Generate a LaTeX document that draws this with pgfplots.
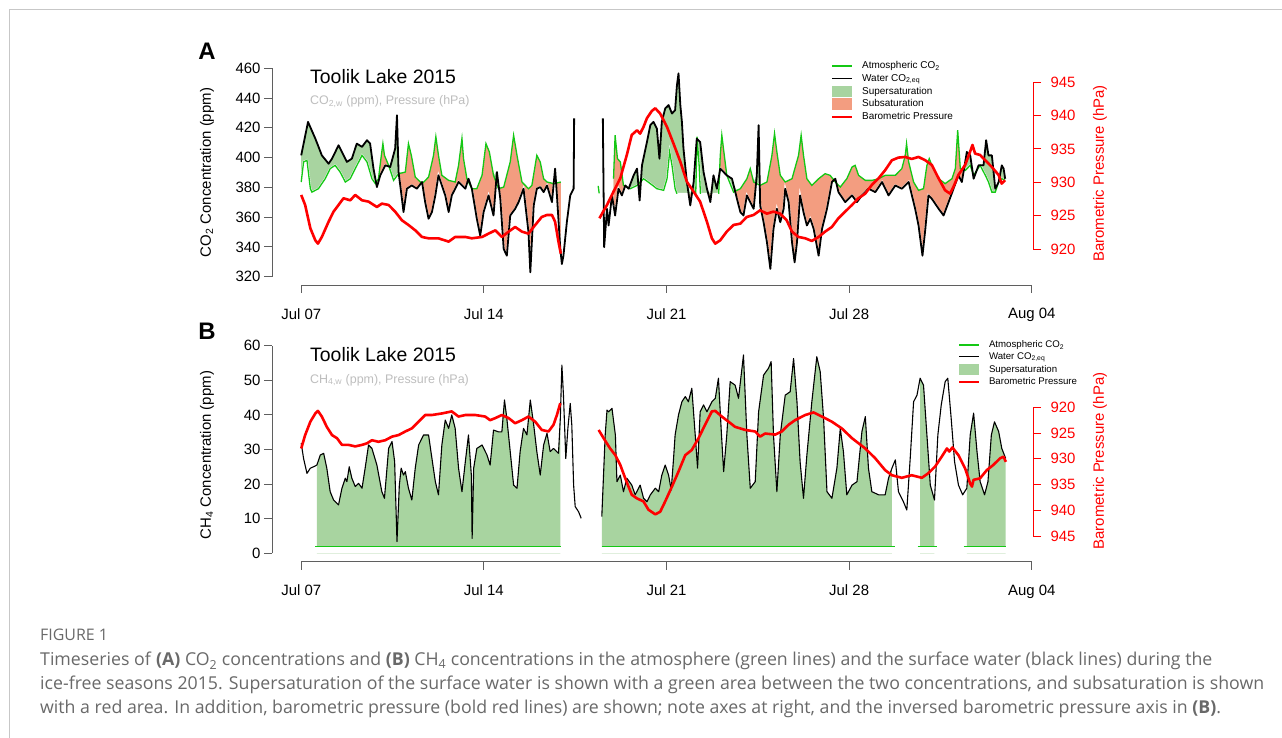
\documentclass[border=0pt]{standalone}
\usepackage{pgfplots}
\pgfplotsset{compat=1.18}
\usepackage{pgfplotstable}
\usepackage{fontspec}
\setmainfont{Liberation Sans}
\newfontfamily\capfont{Open Sans}

\definecolor{atmgreen}{RGB}{20,200,20}
\definecolor{supgreen}{RGB}{168,212,160}
\definecolor{subred}{RGB}{243,157,128}
\definecolor{axgray}{RGB}{95,95,95}
\definecolor{subgray}{RGB}{190,190,190}
\definecolor{capgray}{RGB}{105,105,105}

\pgfplotsset{
  leg atm/.style={legend image code/.code={\draw[atmgreen, line width=1.2bp] (0bp,0bp) -- (20bp,0bp); \path[draw=none, fill=none] (0bp,0bp) -- (30bp,0bp);}},
  leg water/.style={legend image code/.code={\draw[black, line width=1.1bp] (0bp,0bp) -- (20bp,0bp); \path[draw=none, fill=none] (0bp,0bp) -- (30bp,0bp);}},
  leg baro/.style={legend image code/.code={\draw[red, line width=1.5bp] (0bp,0bp) -- (20bp,0bp); \path[draw=none, fill=none] (0bp,0bp) -- (30bp,0bp);}},
  leg sup/.style={legend image code/.code={\fill[supgreen, draw=none] (0bp,-5.6bp) rectangle (20bp,5.6bp); \path[draw=none, fill=none] (0bp,0bp) -- (30bp,0bp);}},
  common/.style={
    scale only axis, anchor=south west,
    xmin=-1.12,
    tick align=outside, major tick length=8bp,
    ticklabel style={font=\fontsize{15}{18}\selectfont},
    xticklabel style={yshift=-12bp},
    /pgf/number format/assume math mode=true,
    label style={font=\fontsize{15}{18}\selectfont},
  },
}

% ---------------- Panel A data (days since Jul 07; a = atmospheric, w = water) ----------------
\pgfplotstableread{
d a w
0.00 383.6 401.5
0.09 397.1 409.3
0.22 398.2 420.5
0.26 392.3 424.0
0.35 379.1 420.4
0.41 376.8 418.0
0.54 378.0 412.8
0.66 379.1 407.4
0.79 382.5 401.5
0.92 385.8 398.7
1.05 390.4 395.9
1.11 392.6 397.5
1.18 393.4 399.3
1.30 394.8 403.6
1.43 391.7 408.3
1.49 390.3 406.2
1.56 388.0 403.8
1.69 383.6 399.2
1.75 384.3 397.1
1.88 385.8 398.6
1.94 388.0 399.3
2.07 392.6 406.2
2.13 394.6 409.4
2.33 401.5 407.2
2.52 397.1 411.7
2.64 390.0 409.4
2.71 385.8 400.3
2.77 384.3 392.6
2.84 382.5 385.9
2.90 384.2 380.2
2.96 385.8 383.8
3.03 395.8 388.1
3.07 401.5 389.5
3.13 409.4 391.6
3.19 401.5 393.7
3.22 400.2 394.8
3.35 394.8 394.1
3.41 391.6 393.7
3.54 384.7 402.1
3.60 386.1 406.1
3.67 387.8 428.5
3.73 389.2 390.3
3.86 389.7 372.3
3.92 390.0 363.4
3.99 390.3 371.9
4.05 399.9 379.1
4.11 409.4 379.8
4.22 401.5 381.1
4.24 399.6 381.3
4.37 386.9 379.8
4.43 385.9 379.1
4.63 382.5 383.6
4.75 384.6 370.1
4.88 386.9 358.9
5.01 396.8 363.4
5.07 401.5 368.6
5.14 411.2 374.6
5.16 414.0 376.9
5.26 401.5 388.1
5.39 388.1 381.3
5.52 386.4 374.6
5.65 384.7 363.4
5.77 384.2 374.6
5.90 383.6 379.1
6.03 394.8 383.6
6.16 412.8 381.4
6.22 399.3 380.3
6.29 392.0 379.1
6.35 385.8 382.5
6.41 383.7 385.8
6.54 379.1 379.1
6.73 379.1 358.9
6.86 385.0 347.6
6.93 388.1 356.1
6.99 396.6 363.4
7.08 409.4 368.7
7.18 405.1 374.6
7.21 403.8 372.5
7.37 388.1 361.1
7.50 382.0 390.3
7.56 379.1 382.0
7.63 379.5 372.3
7.76 380.2 338.6
7.88 388.3 334.1
8.01 397.1 361.1
8.14 415.0 364.2
8.20 408.8 365.6
8.27 401.5 368.0
8.33 395.8 370.1
8.46 383.6 376.2
8.52 382.5 379.1
8.71 379.1 349.9
8.78 380.3 322.9
8.84 381.3 343.6
8.91 388.8 367.8
9.03 401.5 379.1
9.16 397.1 380.2
9.29 385.8 376.8
9.42 383.6 381.3
9.61 382.8 370.1
9.67 382.5 381.4
9.73 382.7 392.6
9.80 383.0 374.6
9.93 383.5 338.6
9.95 383.6 335.2
}\Aone

\pgfplotstableread{
d w
9.95 335.2
9.99 328.5
10.05 334.1
10.18 356.6
10.31 374.6
10.44 379.1
10.46 426.3
}\Awtail

\pgfplotstableread{
d w
11.56 426.3
11.61 339.8
11.72 365.6
11.78 354.4
11.91 374.6
11.97 367.9
}\Awhead

\pgfplotstableread{
d a w
11.97 385.8 367.9
12.03 415.0 361.1
12.12 399.3 373.6
12.16 398.5 379.1
12.23 397.1 376.7
12.29 389.2 374.6
12.35 381.3 377.7
12.42 380.7 381.3
12.55 379.6 379.1
12.61 379.1 382.0
12.74 380.2 388.1
12.87 381.3 392.6
12.97 383.1 371.2
13.06 384.7 394.8
13.12 385.8 399.8
13.25 384.2 410.5
13.38 382.5 421.8
13.50 380.9 424.0
13.63 379.1 419.5
13.73 378.7 399.3
13.82 378.3 424.0
13.89 378.0 428.9
13.95 381.6 433.0
14.02 385.8 434.2
14.08 396.6 435.3
14.12 403.8 433.5
14.21 394.8 429.6
14.33 379.1 431.9
14.40 375.7 448.7
14.46 375.7 456.6
14.53 375.7 435.3
14.59 375.7 424.0
14.65 375.7 406.1
14.78 375.7 383.6
14.91 375.7 367.9
15.04 375.7 383.6
15.12 375.7 403.1
15.16 406.3 412.8
15.17 414.0 412.6
15.25 395.0 411.2
15.29 379.6 410.5
15.30 375.7 408.9
15.42 375.7 390.3
15.55 375.7 379.1
15.68 375.7 370.1
15.80 375.7 388.1
15.93 375.7 379.1
16.00 375.7 386.4
16.06 401.5 392.6
16.12 415.0 391.5
16.31 388.1 388.1
16.51 379.4 385.8
16.57 376.8 381.5
16.70 378.0 372.3
16.83 379.1 363.4
16.95 382.3 361.1
17.08 385.8 374.6
17.21 392.6 370.1
17.34 383.6 365.6
17.46 382.5 388.1
17.53 381.9 421.8
17.59 381.3 367.9
17.72 382.5 356.6
17.85 383.6 343.1
17.98 395.8 325.2
18.04 401.5 338.7
18.10 410.3 352.1
18.14 416.2 356.3
18.23 403.8 365.6
18.36 388.1 356.6
18.49 385.0 365.6
18.55 383.6 379.1
18.68 384.7 370.1
18.81 385.8 343.1
18.91 392.1 329.6
19.00 397.7 343.1
19.06 401.5 358.9
19.12 409.6 374.6
19.16 415.0 371.1
19.25 401.5 363.4
19.38 385.8 354.4
19.51 382.7 358.9
19.57 381.3 355.8
19.64 382.5 352.1
19.83 385.8 334.1
19.96 387.6 352.1
20.08 389.2 360.6
20.15 388.8 365.6
20.27 388.1 376.9
20.34 386.5 383.6
20.47 383.6 385.8
20.59 381.5 376.8
20.66 380.2 375.0
20.85 384.5 370.1
20.91 385.8 371.1
21.11 393.7 374.6
21.23 394.8 371.8
21.30 391.2 370.1
21.36 388.1 371.5
21.49 386.4 374.6
21.62 384.7 376.9
21.74 384.7 379.1
21.87 384.7 378.0
22.00 385.2 376.8
22.13 385.8 380.2
22.26 387.0 383.6
22.38 388.1 379.3
22.51 388.1 374.6
22.77 388.1 381.3
23.02 392.6 379.1
23.15 401.5 381.4
23.20 409.4 382.2
23.28 397.1 383.6
23.47 383.6 369.9
23.53 381.8 365.6
23.66 378.0 354.4
23.81 378.9 334.1
23.85 379.1 340.6
23.92 387.6 352.1
23.98 394.8 363.4
24.04 397.8 374.6
24.07 399.3 374.1
24.17 394.8 372.3
24.43 385.8 365.6
24.62 383.3 361.1
24.68 382.5 364.0
24.81 384.2 370.1
24.94 385.8 376.2
25.00 388.9 379.1
25.07 392.6 382.4
25.16 418.4 386.7
25.19 410.7 388.1
25.26 392.6 385.7
25.32 392.2 383.6
25.45 391.4 397.3
25.51 392.5 403.8
25.64 394.8 401.5
25.77 388.1 385.8
25.96 393.2 394.8
26.02 394.8 394.8
26.15 390.4 394.8
26.22 388.1 406.6
26.25 387.0 411.7
26.34 383.6 401.5
26.47 376.8 401.5
26.60 376.8 379.1
26.73 383.6 383.6
26.85 385.8 394.8
26.92 385.2 392.6
26.98 384.7 385.8
}\Atwo

\pgfplotstableread{
d v
0.00 928.1
0.15 926.6
0.35 923.1
0.54 921.3
0.64 920.8
0.79 921.8
1.05 924.1
1.24 925.6
1.43 926.6
1.62 927.6
1.88 927.3
2.07 928.1
2.33 927.3
2.58 927.1
2.90 926.3
3.09 926.8
3.35 926.6
3.60 925.6
3.86 924.3
4.11 923.6
4.37 922.8
4.63 921.8
4.88 921.6
5.26 921.6
5.65 921.1
5.90 921.8
6.29 921.8
6.54 921.6
6.93 921.8
7.18 922.3
7.44 922.8
7.69 921.8
7.95 922.6
8.20 923.3
8.46 922.6
8.71 922.3
8.97 923.6
9.22 924.8
9.42 925.1
9.61 925.1
9.73 924.1
9.86 921.1
9.95 919.3
}\Apone

\pgfplotstableread{
d v
11.43 924.6
11.72 926.6
11.97 928.6
12.23 930.6
12.48 934.1
12.67 937.1
12.87 937.8
12.99 937.3
13.12 938.3
13.25 939.6
13.44 940.7
13.57 941.1
13.76 940.3
14.02 938.3
14.27 935.8
14.53 933.1
14.78 930.1
15.04 928.6
15.29 927.1
15.55 924.1
15.74 921.6
15.87 920.8
16.06 921.3
16.31 922.6
16.57 923.6
16.83 923.8
17.08 924.8
17.34 925.1
17.59 925.8
17.85 925.3
18.10 925.6
18.36 925.3
18.61 924.3
18.81 922.6
19.06 921.8
19.32 921.6
19.57 921.2
19.83 921.8
20.08 922.6
20.34 923.3
20.59 924.6
20.85 925.6
21.11 926.6
21.36 927.6
21.62 928.3
21.87 929.6
22.13 930.6
22.38 931.8
22.64 933.3
22.89 933.7
23.15 933.8
23.40 933.5
23.66 933.8
23.92 933.3
24.17 932.6
24.43 930.6
24.68 928.8
24.87 928.3
25.00 929.3
25.19 931.1
25.45 932.6
25.64 934.6
25.73 935.6
25.83 934.3
26.02 934.1
26.22 933.3
26.47 932.3
26.73 931.1
26.85 929.8
26.98 930.3
}\Aptwo

% ---------------- Panel B data ----------------
\pgfplotstableread{
d v
0.00 31.8
0.09 27.4
0.22 23.1
0.35 24.6
0.47 25.0
0.60 25.5
0.73 28.4
0.86 28.9
0.98 24.6
1.11 17.8
1.24 15.4
1.43 14.0
1.56 18.8
1.69 21.7
1.75 20.7
1.84 25.0
1.94 21.7
2.07 19.3
2.20 20.2
2.33 18.8
2.45 24.6
2.58 31.3
2.71 30.3
2.90 25.5
3.09 17.8
3.19 15.9
3.35 30.3
3.48 32.3
3.58 26.5
3.67 3.4
3.76 19.7
3.83 24.6
3.92 22.6
3.99 23.6
4.11 18.8
4.24 15.4
4.37 24.6
4.50 31.3
4.69 34.2
4.88 34.2
5.01 27.4
5.14 20.7
5.26 16.9
5.39 31.3
5.52 38.5
5.65 36.1
5.77 40.0
5.90 36.1
6.03 24.6
6.16 17.8
6.29 26.5
6.41 34.2
6.52 22.6
6.55 4.3
6.61 24.6
6.73 30.3
6.93 31.3
7.12 28.4
7.24 25.5
7.37 35.6
7.56 35.1
7.69 35.1
7.79 44.3
7.88 39.0
8.01 29.4
8.14 19.7
8.27 18.8
8.39 29.4
8.52 36.1
8.65 34.2
8.78 44.3
8.91 37.1
9.03 29.4
9.16 22.6
9.29 31.3
9.42 34.7
9.54 29.4
9.67 30.3
9.86 28.9
9.93 39.0
9.99 54.4
10.05 45.7
10.14 27.4
10.22 36.1
10.31 43.3
10.37 37.1
10.44 19.7
10.50 13.5
10.63 12.0
10.73 10.1
}\Bwone

\pgfplotstableread{
d v
11.52 10.6
11.65 34.2
11.72 41.4
11.78 40.9
11.91 41.9
12.04 34.2
12.10 20.7
12.23 22.6
12.35 17.8
12.48 21.7
12.67 19.7
12.80 16.9
12.99 19.7
13.12 15.9
13.25 14.9
13.38 16.9
13.57 18.8
13.70 17.8
13.82 22.6
13.95 25.5
14.08 22.6
14.18 18.3
14.27 27.4
14.33 34.2
14.46 40.0
14.59 43.8
14.72 45.3
14.84 43.8
14.97 47.7
15.10 34.2
15.19 24.6
15.29 40.9
15.42 42.9
15.55 40.9
15.74 43.8
15.87 44.8
15.99 50.6
16.10 35.2
16.19 23.6
16.31 34.2
16.44 49.6
16.63 48.6
16.76 44.8
16.95 57.3
17.08 34.2
17.21 18.8
17.40 20.7
17.53 40.9
17.72 51.5
17.91 53.5
18.01 55.4
18.10 34.2
18.23 17.8
18.36 34.2
18.55 45.7
18.74 46.7
18.87 56.3
19.00 43.8
19.12 26.5
19.25 15.9
19.38 28.4
19.57 43.8
19.76 56.8
19.89 52.5
20.02 39.0
20.15 17.8
20.34 15.9
20.53 24.6
20.66 36.1
20.78 29.4
20.91 16.9
21.11 19.7
21.30 20.7
21.49 35.2
21.62 39.5
21.74 24.6
21.87 17.8
22.13 16.9
22.38 16.9
22.51 21.7
22.64 24.6
22.77 27.0
22.89 17.8
23.08 14.9
23.21 12.5
23.34 27.4
23.47 43.8
23.60 45.7
23.72 50.6
23.85 48.6
23.98 34.2
24.11 19.7
24.27 15.4
24.40 34.2
24.53 42.9
24.68 49.6
24.78 50.6
24.91 39.0
25.04 26.5
25.19 19.7
25.35 16.9
25.51 18.8
25.64 34.2
25.77 40.5
25.90 29.4
26.02 20.7
26.19 16.9
26.32 20.7
26.45 34.2
26.57 38.0
26.73 35.2
26.85 30.3
27.00 27.4
}\Bwtwo

\pgfplotstableread{
d v
0.54 1.9
9.95 1.9
11.52 1.9
22.74 1.9
23.62 1.9
24.36 1.9
25.39 1.9
27.00 1.9
}\Batm

\pgfplotstableread{
d v
0.00 928.0
0.15 925.4
0.35 922.8
0.54 921.2
0.64 920.7
0.79 921.8
0.98 923.8
1.18 925.4
1.37 926.0
1.56 927.3
1.81 927.3
2.07 927.6
2.33 927.3
2.52 927.0
2.71 926.4
2.96 926.7
3.22 926.4
3.48 925.7
3.73 925.4
3.99 924.7
4.24 924.1
4.50 922.8
4.75 921.5
5.01 921.5
5.39 921.2
5.77 920.8
6.03 921.8
6.29 921.5
6.67 921.5
7.05 921.8
7.24 922.5
7.44 922.1
7.69 921.5
7.95 922.1
8.20 923.1
8.46 922.5
8.71 921.8
8.97 922.8
9.22 924.4
9.48 924.7
9.67 923.4
9.80 921.5
9.93 919.2
}\Bpone

\pgfplotstableread{
d v
11.40 924.4
11.59 926.0
11.84 928.0
12.04 929.3
12.23 931.2
12.42 933.8
12.67 937.0
12.87 937.7
13.12 938.3
13.31 939.9
13.57 940.8
13.76 940.3
13.95 938.3
14.21 935.4
14.46 932.5
14.72 929.3
14.97 928.3
15.23 926.0
15.48 923.4
15.74 920.8
15.87 920.7
16.12 921.8
16.38 922.8
16.63 923.8
17.02 924.4
17.40 924.7
17.59 925.7
17.78 925.1
18.17 925.3
18.42 924.7
18.68 923.4
18.93 922.5
19.32 921.5
19.64 921.0
19.96 921.8
20.34 922.8
20.72 924.1
21.11 926.0
21.62 928.0
22.00 929.9
22.38 932.2
22.64 933.2
23.02 933.7
23.40 933.2
23.79 933.7
24.04 932.8
24.30 931.5
24.55 929.6
24.75 928.0
24.84 928.6
24.96 927.8
25.19 929.3
25.45 931.9
25.64 934.8
25.71 935.4
25.77 934.1
26.02 933.8
26.28 932.2
26.53 931.2
26.79 929.9
26.92 929.6
27.01 930.6
}\Bptwo

\begin{document}
\begin{tikzpicture}[x=1bp,y=1bp]
\useasboundingbox (0,0) rectangle (1282,738);
\fill[white] (0,0) rectangle (1282,738);
\draw[black!22, line width=1.5bp] (9.5,0) -- (9.5,728.5) -- (1282,728.5);

%================ PANEL A : CO2 =================
\begin{axis}[common,
  at={(272bp,453bp)}, width=789bp, height=225bp,
  xmax=29.12, ymin=314.4, ymax=465.6,
  axis x line*=bottom, axis y line*=left,
  axis line style={axgray, -, line width=0.9bp},
  x axis line style={shorten <=29.2bp, shorten >=29.2bp},
  y axis line style={shorten <=8.3bp, shorten >=8.3bp},
  tick style={axgray, line width=0.9bp},
  xtick={0,7,14,21,28},
  xticklabels={Jul 07,Jul 14,Jul 21,Jul 28,Aug 04},
  ytick={320,340,...,460},
  ylabel={CO\textsubscript{2} Concentration (ppm)},
  ylabel style={at={(axis description cs:-0.0824,0.5)}, anchor=center},
]
% super-/subsaturation areas: green up to max(w,a), red up to a, white below min(w,a)
\addplot[fill=supgreen, draw=none, forget plot] table[x=d, y expr={max(\thisrow{w},\thisrow{a})}] {\Aone} \closedcycle;
\addplot[fill=subred, draw=none, forget plot] table[x=d, y=a] {\Aone} \closedcycle;
\addplot[fill=white, draw=white, line width=2bp, forget plot] table[x=d, y expr={min(\thisrow{w},\thisrow{a})}] {\Aone} \closedcycle;
\addplot[fill=supgreen, draw=none, forget plot] table[x=d, y expr={max(\thisrow{w},\thisrow{a})}] {\Atwo} \closedcycle;
\addplot[fill=subred, draw=none, forget plot] table[x=d, y=a] {\Atwo} \closedcycle;
\addplot[fill=white, draw=white, line width=2bp, forget plot] table[x=d, y expr={min(\thisrow{w},\thisrow{a})}] {\Atwo} \closedcycle;
% atmospheric CO2
\addplot[atmgreen, line width=1.3bp, forget plot] table[x=d, y=a] {\Aone};
\addplot[atmgreen, line width=1.3bp, forget plot, restrict x to domain=11.9:14.41] table[x=d, y=a] {\Atwo};
\addplot[atmgreen, line width=1.3bp, forget plot, restrict x to domain=15.11:15.31] table[x=d, y=a] {\Atwo};
\addplot[atmgreen, line width=1.3bp, forget plot, restrict x to domain=15.99:27] table[x=d, y=a] {\Atwo};
\addplot[atmgreen, line width=1.3bp, forget plot] coordinates {(11.38,381) (11.42,376)};
% water CO2
\addplot[black, line width=1.8bp, line join=round, forget plot] table[x=d, y=w] {\Aone};
\addplot[black, line width=1.8bp, line join=round, forget plot] table[x=d, y=w] {\Awtail};
\addplot[black, line width=1.8bp, line join=round, forget plot] table[x=d, y=w] {\Awhead};
\addplot[black, line width=1.8bp, line join=round, forget plot] table[x=d, y=w] {\Atwo};
\end{axis}

\begin{axis}[common, clip=false,
  at={(272bp,453bp)}, width=761bp, height=225bp,
  xmax=28.05, ymin=914.6, ymax=948.34,
  axis x line=none, axis y line*=right,
  y axis line style={draw=none},
  tick style={red, line width=0.9bp},
  ytick={920,925,...,945},
  yticklabel style={red, xshift=6bp},
  ylabel={Barometric Pressure (hPa)},
  ylabel style={red, at={(axis description cs:1.088,0.4956)}, anchor=center},
]
\draw[red, line width=0.9bp] (axis cs:28.05,920) -- (axis cs:28.05,945);
\addplot[red, line width=2.6bp, line join=round, forget plot] table {\Apone};
\addplot[red, line width=2.6bp, line join=round, forget plot] table {\Aptwo};
\end{axis}

% legend of panel A (key swatches and labels)
\begin{scope}[every node/.style={anchor=west, inner sep=0, font=\fontsize{10}{10}\selectfont, text height=7.6bp, text depth=2.2bp}]
\draw[atmgreen, line width=1.2bp] (832,672) -- (852,672);
\node at (862,672) {Atmospheric CO\textsubscript{2}};
\draw[black, line width=1.1bp] (832,659.3) -- (852,659.3);
\node at (862,659.3) {Water CO\textsubscript{2,eq}};
\fill[supgreen] (832,641) rectangle (852,652.2);
\node at (862,646.6) {Supersaturation};
\fill[subred] (832,628.3) rectangle (852,639.5);
\node at (862,633.9) {Subsaturation};
\draw[red, line width=1.5bp] (832,621.2) -- (852,621.2);
\node at (862,621.2) {Barometric Pressure};
\end{scope}

%================ PANEL B : CH4 =================
\begin{axis}[common,
  at={(272bp,176.4bp)}, width=789bp, height=224.2bp,
  xmax=29.12, ymin=-2.4, ymax=62.4,
  axis x line*=bottom, axis y line*=left,
  axis line style={axgray, -, line width=0.9bp},
  x axis line style={shorten <=29.2bp, shorten >=29.2bp},
  y axis line style={shorten <=8.3bp, shorten >=8.3bp},
  tick style={axgray, line width=0.9bp},
  xtick={0,7,14,21,28},
  xticklabels={Jul 07,Jul 14,Jul 21,Jul 28,Aug 04},
  ytick={0,10,...,60},
  ylabel={CH\textsubscript{4} Concentration (ppm)},
  ylabel style={at={(axis description cs:-0.0824,0.475)}, anchor=center},
  legend cell align=left,
  legend style={at={(0.8695,0.988)}, anchor=north west, draw=none, fill=none,
    inner sep=0pt, font=\fontsize{9.7}{10}\selectfont, row sep=2.2bp,
    nodes={inner sep=0pt, text height=7.4bp, text depth=2.2bp}},
]
\addplot[fill=supgreen, draw=none, forget plot, restrict x to domain=0.54:9.95] table {\Bwone} \closedcycle;
\addplot[fill=supgreen, draw=none, forget plot, restrict x to domain=11.52:22.74] table {\Bwtwo} \closedcycle;
\addplot[fill=supgreen, draw=none, forget plot, restrict x to domain=23.62:24.36] table {\Bwtwo} \closedcycle;
\addplot[fill=supgreen, draw=none, forget plot, restrict x to domain=25.39:27.0] table {\Bwtwo} \closedcycle;
\addplot[fill=white, draw=none, forget plot] coordinates {(-1,1.9) (29,1.9)} \closedcycle;
\addplot[atmgreen, line width=1.2bp, forget plot, restrict x to domain=0.5:10] table {\Batm};
\addplot[atmgreen, line width=1.2bp, forget plot, restrict x to domain=11.5:22.8] table {\Batm};
\addplot[atmgreen, line width=1.2bp, forget plot, restrict x to domain=23.6:24.4] table {\Batm};
\addplot[atmgreen, line width=1.2bp, forget plot, restrict x to domain=25.3:27.1] table {\Batm};
\addplot[black, line width=1.1bp, line join=round, forget plot] table {\Bwone};
\addplot[black, line width=1.1bp, line join=round, forget plot] table {\Bwtwo};
\addlegendimage{leg atm}
\addlegendentry{Atmospheric CO\textsubscript{2}}
\addlegendimage{leg water}
\addlegendentry{Water CO\textsubscript{2,eq}}
\addlegendimage{leg sup}
\addlegendentry{Supersaturation}
\addlegendimage{leg baro}
\addlegendentry{Barometric Pressure}
\end{axis}

\begin{axis}[common, clip=false,
  at={(272bp,176.4bp)}, width=761bp, height=224.2bp,
  xmax=28.05, ymin=906.42, ymax=949.98, y dir=reverse,
  axis x line=none, axis y line*=right,
  y axis line style={draw=none},
  tick style={red, line width=0.9bp},
  ytick={920,925,...,945},
  yticklabel style={red, xshift=6bp},
  ylabel={Barometric Pressure (hPa)},
  ylabel style={red, at={(axis description cs:1.088,0.449)}, anchor=center},
]
\draw[red, line width=0.9bp] (axis cs:28.05,920) -- (axis cs:28.05,945);
\addplot[red, line width=2.6bp, line join=round, forget plot] table {\Bpone};
\addplot[red, line width=2.6bp, line join=round, forget plot] table {\Bptwo};
\end{axis}

%================ titles =================
\node[font=\bfseries\fontsize{24}{24}\selectfont, inner sep=0] at (207,687) {A};
\node[font=\bfseries\fontsize{24}{24}\selectfont, inner sep=0] at (207,407) {B};
\node[anchor=west, inner sep=0, font=\fontsize{19.5}{20}\selectfont] at (310,661) {Toolik Lake 2015};
\node[anchor=west, inner sep=0, font=\fontsize{19.5}{20}\selectfont] at (310,383) {Toolik Lake 2015};
\node[anchor=west, inner sep=0, text=subgray, font=\fontsize{12.5}{14}\selectfont] at (310,636) {CO\textsubscript{2,w} (ppm), Pressure (hPa)};
\node[anchor=west, inner sep=0, text=subgray, font=\fontsize{12.5}{14}\selectfont] at (310,358) {CH\textsubscript{4,w} (ppm), Pressure (hPa)};

%================ caption =================
\begin{scope}[every node/.style={anchor=base west, inner sep=0, text=capgray, font=\capfont\fontsize{17.8}{20}\selectfont}]
\node[font=\capfont\fontsize{16}{20}\selectfont] at (40,97) {FIGURE 1};
\node at (40,72) {Timeseries of \textbf{(A)} CO\textsubscript{2} concentrations and \textbf{(B)} CH\textsubscript{4} concentrations in the atmosphere (green lines) and the surface water (black lines) during the};
\node at (40,48) {ice-free seasons 2015. Supersaturation of the surface water is shown with a green area between the two concentrations, and subsaturation is shown};
\node at (40,24) {with a red area. In addition, barometric pressure (bold red lines) are shown; note axes at right, and the inversed barometric pressure axis in \textbf{(B)}.};
\end{scope}
\end{tikzpicture}
\end{document}
